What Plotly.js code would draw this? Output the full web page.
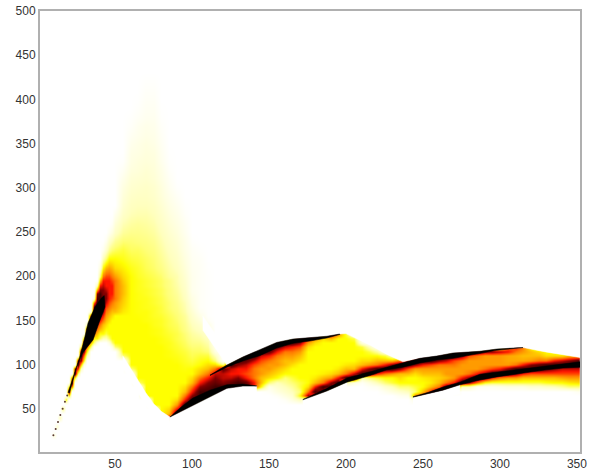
<!DOCTYPE html>
<html><head><meta charset="utf-8">
<script src="https://cdn.plot.ly/plotly-3.0.1.min.js"></script>
<style>html,body{margin:0;padding:0;background:#fff}#c{width:594px;height:470px}</style>
</head><body><div id="c"></div>
<script>
// y positions of the density grid
const yGrid=[15,20,25,30,35,40,45,50,55,60,65,70,75,80,85,90,95,100,105,110,115,120,125,130,135,140,145,150,155,160,165,170,175,180,185,190,195,200,210,220,230,240,250,260,270,280,290,300,310,320,330,340,350,360,370,380,390,400,410,420,430];
// x position of each density column
const xCols=[8,10,12,14,16,18,20,22,24,26,28,30,32,34,36,38,40,42,44,46,48,50,55,60,65,70,75,80,85,90,95,100,105,110,115,120,125,130,135,140,145,150,155,160,165,170,175,180,185,190,195,200,205,210,215,220,225,230,235,240,245,250,255,260,265,270,275,280,285,290,295,300,305,310,315,320,325,330,335,340,345,352];
// y of the first non-white cell in each column
const yStart=[15,20,30,40,50,60,65,75,85,90,95,100,110,120,125,125,130,130,130,125,120,120,110,95,80,65,55,45,40,45,50,55,60,65,70,70,70,75,75,75,75,70,65,60,60,60,65,65,70,75,75,80,80,80,75,75,70,70,65,65,60,65,65,65,70,70,75,75,75,75,75,75,75,75,75,75,75,75,75,75,75,70];
// density read per column, going up from yStart along yGrid (0 white, 4 yellow, 7 red, 9 darkest)
const zCols=[
[0],
[1],
[1.5],
[2],
[3],
[4],
[4,9,4],
[6,9,6],
[4,9,8],
[3,7,9,8],
[2,5,8,9,9,3],
[1,4,6,8,9,9,5],
[2,4,6,8,9,9,8,2],
[3,5,7,8,9,9,9,7,1],
[3,4,6,7,8,9,9,9,9,6,1],
[1,4,5,6,7,8,9,9,9,9,9,8,5,2],
[3,4,5,6,7,8,9,9,9,9,9,8,7,5,3,1],
[2,4,4.5,5,6,7,8,8.5,9,8.5,8,8,7.5,7,6,4,2,.5],
[2,3.5,4,4.5,5,5.5,6,6.5,7.5,8,8,7.5,7,7,6.5,5,3,1.5,.5],
[1,3,4,4,4,4.5,5,5.5,6,6.5,7,7,7,7,7,6.5,5.3,4,2.5,1.5,.5],
[1,3,4,4,4,4,4,4.5,5,5.5,6,6.5,7,7,7,6.5,6,5,4,3,2,1,.3],
[3,4,4,4,4,4,4,4,5,5.3,5.5,6,6,6,6,6,5.5,4.5,4,3.2,2.5,1.7,1.2,.6],
[3,4,4,4,4,4,4,4,4,4,4.3,4.5,4.7,4.8,5,5,5,4.8,4.6,4.2,3.8,3.5,3,2.5,2.1,1.7,1.4,1.2,1,.7,.4,.1],
[3,4,4,4,4,4,4,4,4,4,4,4,4,4,4,4,4,4,4,4,4,4,3.8,3.5,3.2,3,2.7,2.4,2.1,1.9,1.7,1.5,1.3,1.1,.9,.8,.6,.4,.2,.1],
[3,4,4,4,4,4,4,4,4,4,4,4,4,4,4,3.95,3.9,3.9,3.9,3.85,3.85,3.8,3.8,3.8,3.7,3.6,3.4,3.2,2.9,2.7,2.5,2.2,2,1.8,1.6,1.4,1.2,1.1,.9,.8,.6,.5,.3,.15,.05],
[4,4,4,4,4,4,4,4,4,4,4,4,4,4,4,4,4,3.9,3.9,3.9,3.8,3.8,3.8,3.7,3.7,3.6,3.6,3.5,3.3,3.2,3,2.8,2.6,2.4,2.2,2,1.8,1.7,1.5,1.4,1.2,1.1,1,.8,.7,.5,.4,.3,.2,.1],
[4,4,4,4,4,4,4,4,4,4,4,4,4,4,4,4,3.9,3.9,3.8,3.8,3.7,3.7,3.7,3.6,3.6,3.5,3.5,3.4,3.4,3.3,3.1,3,2.8,2.6,2.4,2.2,2,1.8,1.6,1.5,1.3,1.2,1.1,1,.8,.7,.6,.5,.4,.3,.2,.1],
[4,4,4,4,4,4,4,4,4,4,4,4,4,4,4,4,3.9,3.9,3.8,3.8,3.7,3.7,3.6,3.5,3.5,3.4,3.4,3.3,3.3,3.2,3.2,3.1,2.8,2.6,2.4,2.2,2,1.8,1.6,1.4,1.2,1.1,.9,.8,.6,.5,.4,.3,.2,.1,.05],
[8,5,4.5,4,4,4,4,4,4,4,4,4,4,4,3.9,3.9,3.8,3.8,3.7,3.6,3.5,3.4,3.4,3.3,3.2,3.1,3.1,3,2.9,2.9,2.8,2.8,2.5,2.3,2.1,1.9,1.7,1.5,1.3,1.1,.9,.7,.5,.35,.2,.1,.05],
[9,7,5.5,4.5,4,4,4,4,4,4,4,4,3.9,3.8,3.7,3.6,3.5,3.4,3.4,3.3,3.2,3.1,3,2.9,2.8,2.7,2.6,2.5,2.4,2.3,2.2,2.2,1.9,1.7,1.5,1.3,1.1,.9,.7,.5,.3,.1],
[9,9,7,6,5,4.5,4,4,4,3.9,3.8,3.7,3.6,3.5,3.3,3.2,3.1,3,2.8,2.7,2.6,2.5,2.3,2.2,2.1,1.9,1.8,1.7,1.6,1.5,1.4,1.2,1,.8,.7,.5,.4,.2,.1],
[9,9,8,7,6,5,4.5,4,4,3.7,3.5,3.3,3.2,3,2.8,2.6,2.4,2.2,2,1.8,1.6,1.4,1.2,1,.9,.7,.6,.6,.6,.6,.5,.4,.3,.1],
[8,9,9,8,7,6,5,4.5,4,3.8,3.5,3.2,3,2.7,2.4,2.1,1.8,1.5,1.2,.8,.5,.3,.3,.3,.3,.3,.3,.3,.3,.3,.25,.1],
[9,9,8.5,8,7,6,5,4.5,4,3.5,3,2.5,2.2,1.9,1.6,1.2,.8,.3,.1,.1,.1,.1,.1,.1,.1,.1,.1,.1,.05],
[9,9,8.5,8,7.5,6,4.5,3,2,1,.5],
[7,9,8,7.5,7.5,8.5,3],
[4,9,8.5,7.5,7,7.5,9,1],
[8,9,8,7,7,8,9,1],
[8,8.5,7,6.5,7,7.5,8.5,9,1],
[7,7,6,6,6,6.5,7.5,9,7],
[4,5,5,5.5,5.5,6,6.5,7.5,9,4],
[.3,.8,3,4.5,5,5.5,5.5,6,7,8.5,9,1],
[.3,1,1.5,2,4,4.5,5,5.5,5.5,6,7,8.5,9],
[.3,1,1.5,2,2.5,3,4,4.5,5,5,5.5,6,7.5,9,2],
[1,1.5,2,2.5,3,3.5,4,4,4.5,5,5.5,6,7,9,5],
[2,4,3,3.5,3.5,4,4,4,4,4.5,5,5.5,6.5,8,9],
[8,6,4.5,4,4,4,4,4,4,4,4,4.5,5.5,7,9,1],
[6,9,7,5,4.3,4,4,4,4,4,4,4,4.5,5.5,8,3],
[8,9,6,5,4.2,4,4,4,4,4,4,4,4.5,6,7],
[9,8,5.5,4.5,4,4,4,4,4,4,4,5,8],
[3,9,7,5,4.3,4,4,4,4,4,4,4,6],
[2,9,6,5,4.3,4,4,4,4,4,4,3.5],
[1,9,7.5,5,4.5,4,4,4,4,4,3.5,1],
[.3,2,9,7,5,4.5,4,4,3.5,1],
[.3,1,3,9,8,5.5,4.5,4,3.5,2],
[.5,2,3.5,7,9,6,5,4,2.5,.3],
[.5,1.5,3,4,6,9,7,5,3.5,.5],
[1,2,3.5,4,5.5,9,8,5,2],
[.5,1.5,3,4,4.5,5,8,9,6,.5],
[.7,2,3,4,4,5,6.5,9,8],
[1,6,3,3.5,4,4,4.5,5.5,8,9,4],
[7,5,4,4,4.3,5,5.5,7,9,7],
[8,7,5,4.3,4.5,5,5.5,6.5,9,8.5],
[4,9,6,5,4.7,5,5.5,6,8,9],
[8,8.5,6,5,5.5,5.5,6,7.5,9,2],
[1,9,7,5.5,5.5,5.5,6,6.5,9,6],
[2,9,7,5.5,5.5,5.5,6,8,8],
[2,8,8,6,5.5,5.5,5.5,6.5,9],
[.5,6,9,7,5.5,5.5,5.5,6,9,.5],
[.5,4,8.5,8,6,5.5,5.5,5.5,8,2],
[.5,3.5,7,9,6.5,5.5,5.5,5.5,8,3],
[.7,3.5,6,9,7,5.5,5.5,5.5,7.5,3],
[1,3.5,5.5,9,8,5.5,5.3,5.3,7,6],
[1,3.5,5.5,8,9,6,5.3,5.2,6,7],
[1,3.5,5,7,9,7,5.3,5,5.5,6],
[1.5,3.5,5,6.5,9,8,5.5,5,5,4],
[1.5,3.5,5,6.5,9,8.5,6,5,4.5,2],
[1.8,3.8,5,6.5,8.5,9,6,4.5,4,1],
[2,4,5,6.5,8,9,7,4.5,3.8,.5],
[2.5,4,5.3,6.5,7.5,9,7.5,4.5,3.5],
[3,4.3,5.5,6.5,7.5,9,8,5,2.5],
[.5,3,4.5,5.5,6.5,7.5,9,9,5,1]
];
// black ridges: x with lower and upper edge
const ridgeAX=[85.7,93,100.6,111.7,122.7,133,142];
const ridgeALo=[40.6,47,54,64,73,75.6,75.6];
const ridgeAHi=[40.6,52,62,71,77,78,75.8];
const ridgeBX=[111.7,122.7,133,144,155,165.6,176.6,187.6,196];
const ridgeBLo=[87.5,97,104,110,118.6,124,126.6,130,134];
const ridgeBHi=[88,99.4,108.5,116.4,125,128.8,130,132,134.5];
const ridgeCX=[172,187.6,200.6,215.6,226.6,237,248,259,269.5,287,298,308.5,315];
const ridgeCLo=[60,70,80,87.5,94,97,101.7,105,107,112,116,118,119];
const ridgeCHi=[60.5,73,84.7,92,97,101.7,107,109.6,113,115,117.5,118.6,119.2];
const ridgeDX=[243.5,253.5,263,274,287,298,309,320,330,341,352];
const ridgeDLo=[63,67,71,77,82.5,86,89,91.5,94,96,97];
const ridgeDHi=[63.5,68.5,74.5,80,89,91.5,93.5,96,98,100.5,103];
// black core of the first rise: outline
const coreX=[19.5,24,27,30,32.5,37,41,43,43.5,39.6,35.8,29,25,20.5];
const coreY=[68,92,108,128,147,165,175,178,165,147,128,113,96,68];
// dotted start of the rise
const tipX=[10,11.5,13,14.5,16,17.5,19];
const tipY=[20,27,35,43,50,58,65];
// sharp outer edges of the density
const topEdgeX=[122.7,133,144,155,165.6,176.6,187.6,196,200,215.6,226,237,248,259,269.5,287,298,308.5,315,330.5,352];
const topEdgeY=[99.4,108.5,116.4,125,128.8,130,132,134.5,135,122,112,103,107,109.6,113,115,117.5,118.6,119.2,114,108];
const humpLowX=[55,60,65,70,75,80,85.7];
const humpLowY=[110,96,82,68,56,47,40.6];
const humpRightX=[107,112,117,122.7];
const humpRightY=[139,127,114,99.4];
// axis tick labels
const xTicks=[50,100,150,200,250,300,350];
const yTicks=[50,100,150,200,250,300,350,400,450,500];

// place each sparse column into the full cell table
const z=yGrid.map(()=>xCols.map(()=>0));
xCols.forEach((_,c)=>{
  const first=yGrid.indexOf(yStart[c]);
  zCols[c].forEach((v,k)=>{ if(first+k<yGrid.length) z[first+k][c]=v; });
});

const poly=(x,y,color)=>({type:'scatter',mode:'lines',x:x,y:y,fill:'toself',fillcolor:color,line:{width:.5,color:color},hoverinfo:'skip'});
const band=(x,lo,hi,color)=>poly(x.concat(x.slice().reverse()),lo.concat(hi.slice().reverse()),color);
const raise=(a,d)=>a.map(v=>v+d);

const font={family:'"Liberation Sans",Arial,sans-serif',size:12,color:'#333'};
Plotly.newPlot('c',[{
  type:'heatmap',x:xCols,y:yGrid,z:z,zmin:0,zmax:9,zsmooth:'best',showscale:false,hoverinfo:'skip',
  colorscale:[[0,'#ffffff'],[1/9,'#ffffe1'],[2/9,'#ffffbe'],[3/9,'#ffff78'],[4/9,'#ffff00'],[5/9,'#ffbe00'],[6/9,'#ff7800'],[7/9,'#ff1400'],[8/9,'#820000'],[1,'#400000']]
},
 band(topEdgeX,topEdgeY,raise(topEdgeY,16),'#ffffff'),
 band(humpRightX,humpRightY,raise(humpRightY,16),'#ffffff'),
 band(humpLowX,raise(humpLowY,-14),humpLowY,'#ffffff'),
 band(ridgeAX,raise(ridgeALo,-12),ridgeALo,'#ffffff'),
 band(ridgeCX.slice(0,3),raise(ridgeCLo.slice(0,3),-10),ridgeCLo.slice(0,3),'#ffffff'),
 band(ridgeDX.slice(0,4),raise(ridgeDLo.slice(0,4),-10),ridgeDLo.slice(0,4),'#ffffff'),
 band(ridgeAX,ridgeALo,ridgeAHi,'#000000'),
 band(ridgeBX,ridgeBLo,ridgeBHi,'#000000'),
 band(ridgeCX,ridgeCLo,ridgeCHi,'#000000'),
 band(ridgeDX,ridgeDLo,ridgeDHi,'#000000'),
 poly(coreX,coreY,'#000000'),
 {type:'scatter',mode:'markers',x:tipX,y:tipY,marker:{size:2,color:'#5a3a30'},hoverinfo:'skip'}
],{
  width:594,height:470,margin:{l:40,r:14,t:11,b:18},
  paper_bgcolor:'#fff',plot_bgcolor:'#fff',showlegend:false,font:font,
  xaxis:{range:[1.3,352],tickmode:'array',tickvals:xTicks,ticks:'',showgrid:false,zeroline:false,showline:true,mirror:true,linecolor:'#b0b0b0',linewidth:2,tickfont:font,automargin:false},
  yaxis:{range:[1,500],tickmode:'array',tickvals:yTicks,ticks:'',showgrid:false,zeroline:false,showline:true,mirror:true,linecolor:'#b0b0b0',linewidth:2,tickfont:font,automargin:false}
},{displayModeBar:false,staticPlot:true});
</script></body></html>
